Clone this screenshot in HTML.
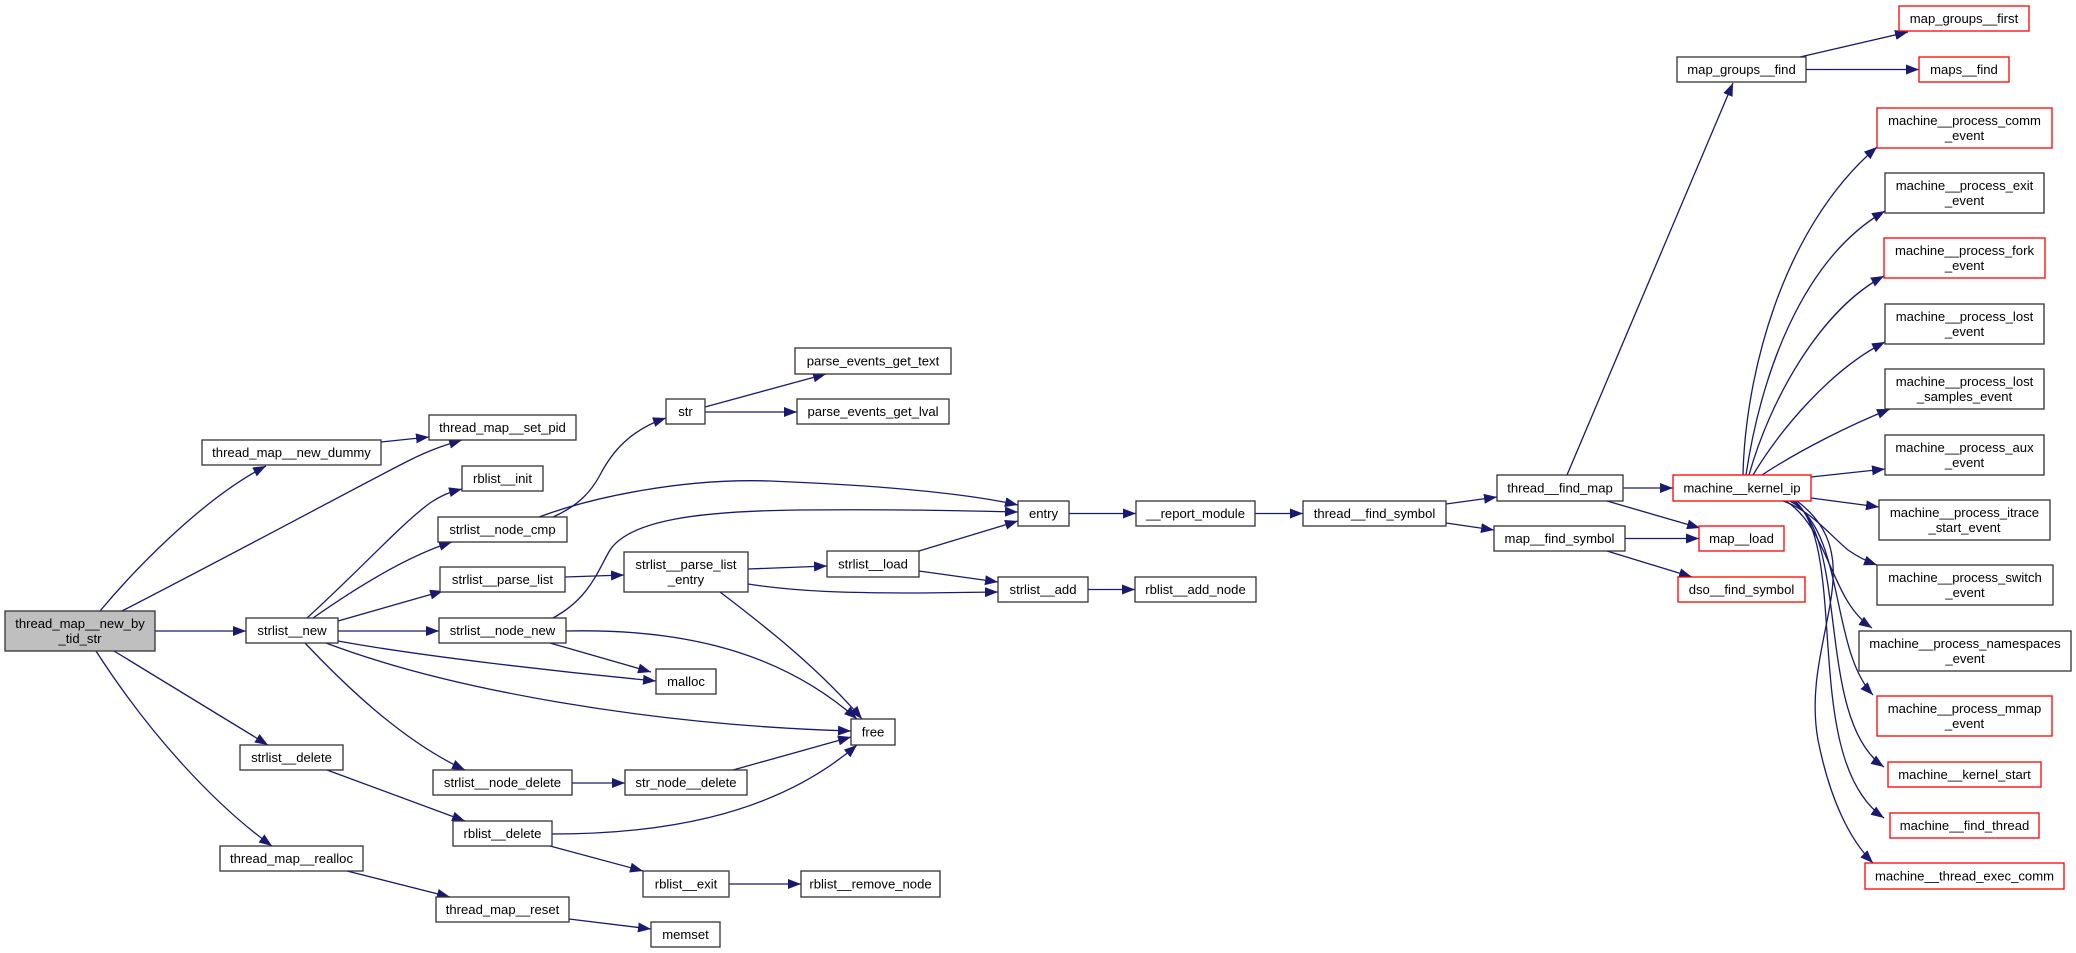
<!DOCTYPE html>
<html><head><meta charset="utf-8"><style>
html,body{margin:0;padding:0;background:#fff;}
svg{display:block;}
text{font-family:"Liberation Sans",Arial,sans-serif;font-size:13.1px;fill:#000;text-anchor:middle;}
.n{fill:#fff;stroke:#333;stroke-width:1.3;}
.r{fill:#fff;stroke:#ff0000;stroke-width:1.3;}
.g{fill:#bfbfbf;stroke:#333;stroke-width:1.3;}
.e{fill:none;stroke:#191970;stroke-width:1.3;marker-end:url(#a);}
</style></head><body>
<svg width="2076" height="953" viewBox="0 0 2076 953" xmlns="http://www.w3.org/2000/svg">
<defs><marker id="a" markerUnits="userSpaceOnUse" markerWidth="13" markerHeight="10" viewBox="0 0 13 10" refX="13" refY="5" orient="auto"><path d="M0,0 L13,5 L0,10 z" fill="#191970"/></marker></defs>

<!-- edges -->
<path class="e" d="M100,611 C130,575 200,500 266,466"/>
<path class="e" d="M122,611 C250,545 370,480 410,460 C430,450 445,445 462,440"/>
<path class="e" d="M155,631 L246,631"/>
<path class="e" d="M114,651 L268,745"/>
<path class="e" d="M96,651 C150,735 215,805 272,846"/>
<path class="e" d="M381,442 L429,437"/>
<path class="e" d="M307,618 C360,570 400,525 430,503 C442,495 450,492 462,489"/>
<path class="e" d="M313,618 C360,585 410,555 452,542"/>
<path class="e" d="M338,621 L443,591"/>
<path class="e" d="M338,631 L439,631"/>
<path class="e" d="M338,641 C420,656 560,672 656,681"/>
<path class="e" d="M326,643 C450,690 650,725 851,731"/>
<path class="e" d="M305,643 C340,680 400,740 465,770"/>
<path class="e" d="M327,770 L465,821"/>
<path class="e" d="M347,871 L450,897"/>
<path class="e" d="M553,517 C580,505 592,490 600,475 C612,452 630,430 666,418"/>
<path class="e" d="M539,517 C590,498 680,478 770,481 C870,485 960,492 1018,505"/>
<path class="e" d="M565,577 L624,575"/>
<path class="e" d="M553,618 C590,598 598,570 610,550 C630,520 700,511 800,510 C900,509 980,511 1018,512"/>
<path class="e" d="M550,643 L651,672"/>
<path class="e" d="M566,631 C700,628 790,660 857,719"/>
<path class="e" d="M748,569 L827,566"/>
<path class="e" d="M748,584 C800,592 850,593 920,593 L998,592"/>
<path class="e" d="M720,592 C770,630 820,670 862,719"/>
<path class="e" d="M919,551 L1018,521"/>
<path class="e" d="M919,571 L998,582"/>
<path class="e" d="M572,783 L625,783"/>
<path class="e" d="M733,770 L851,737"/>
<path class="e" d="M552,834 C650,834 770,820 857,745"/>
<path class="e" d="M550,846 L643,871"/>
<path class="e" d="M729,884 L801,884"/>
<path class="e" d="M569,919 L651,929"/>
<path class="e" d="M705,407 L826,374"/>
<path class="e" d="M705,412 L797,412"/>
<path class="e" d="M1069,513.5 L1136,513.5"/>
<path class="e" d="M1088,589.5 L1135,589.5"/>
<path class="e" d="M1255,513.5 L1303,513.5"/>
<path class="e" d="M1446,504 L1497,497"/>
<path class="e" d="M1446,523 L1494,530"/>
<path class="e" d="M1623,488 L1673,488"/>
<path class="e" d="M1607,501 L1700,528"/>
<path class="e" d="M1567,475 L1733,83"/>
<path class="e" d="M1625,538.5 L1699,538.5"/>
<path class="e" d="M1607,551 L1692,577"/>
<path class="e" d="M1800,57 L1908,32"/>
<path class="e" d="M1806,69.5 L1919,69.5"/>
<path class="e" d="M1743,475 C1745,380 1780,230 1877,147"/>
<path class="e" d="M1746,475 C1760,380 1800,260 1885,211"/>
<path class="e" d="M1749,475 C1770,400 1820,310 1884,276"/>
<path class="e" d="M1753,475 C1780,430 1830,370 1885,342"/>
<path class="e" d="M1762,475 C1800,450 1850,425 1890,409"/>
<path class="e" d="M1811,477 L1885,469"/>
<path class="e" d="M1811,498 L1879,507"/>
<path class="e" d="M1783,501 C1810,510 1830,535 1848,550 C1858,557 1866,561 1877,565"/>
<path class="e" d="M1786,501 C1830,530 1830,600 1872,628"/>
<path class="e" d="M1790,501 C1845,530 1830,650 1873,695"/>
<path class="e" d="M1793,501 C1850,540 1815,720 1884,767"/>
<path class="e" d="M1795,501 C1850,550 1800,760 1884,818"/>
<path class="e" d="M1797,501 C1875,560 1800,640 1818,740 C1830,800 1850,840 1873,863"/>

<!-- nodes -->
<rect class="g" x="5" y="611" width="150" height="40"/><text x="80" y="628">thread_map__new_by</text><text x="80" y="643">_tid_str</text>
<rect class="n" x="202" y="440" width="179" height="25"/><text x="291.5" y="457">thread_map__new_dummy</text>
<rect class="n" x="429" y="415" width="147" height="25"/><text x="502.5" y="432">thread_map__set_pid</text>
<rect class="n" x="462" y="466" width="81" height="25"/><text x="502.5" y="483">rblist__init</text>
<rect class="n" x="438" y="517" width="129" height="25"/><text x="502.5" y="534">strlist__node_cmp</text>
<rect class="n" x="440" y="567" width="125" height="25"/><text x="502.5" y="584">strlist__parse_list</text>
<rect class="n" x="246" y="618" width="92" height="25"/><text x="292" y="635">strlist__new</text>
<rect class="n" x="439" y="618" width="127" height="25"/><text x="502.5" y="635">strlist__node_new</text>
<rect class="n" x="656" y="669" width="60" height="25"/><text x="686" y="686">malloc</text>
<rect class="n" x="851" y="719" width="44" height="26"/><text x="873" y="736.5">free</text>
<rect class="n" x="240" y="745" width="103" height="25"/><text x="291.5" y="762">strlist__delete</text>
<rect class="n" x="433" y="770" width="139" height="25"/><text x="502.5" y="787">strlist__node_delete</text>
<rect class="n" x="625" y="770" width="122" height="25"/><text x="686" y="787">str_node__delete</text>
<rect class="n" x="453" y="821" width="99" height="25"/><text x="502.5" y="838">rblist__delete</text>
<rect class="n" x="643" y="871" width="86" height="26"/><text x="686" y="888.5">rblist__exit</text>
<rect class="n" x="801" y="871" width="139" height="26"/><text x="870.5" y="888.5">rblist__remove_node</text>
<rect class="n" x="220" y="846" width="143" height="25"/><text x="291.5" y="863">thread_map__realloc</text>
<rect class="n" x="436" y="897" width="133" height="25"/><text x="502.5" y="914">thread_map__reset</text>
<rect class="n" x="651" y="922" width="69" height="25"/><text x="685.5" y="939">memset</text>
<rect class="n" x="666" y="399" width="39" height="25"/><text x="685.5" y="416">str</text>
<rect class="n" x="795" y="348" width="156" height="26"/><text x="873" y="365.5">parse_events_get_text</text>
<rect class="n" x="797" y="399" width="152" height="25"/><text x="873" y="416">parse_events_get_lval</text>
<rect class="n" x="624" y="552" width="124" height="40"/><text x="686" y="569">strlist__parse_list</text><text x="686" y="584">_entry</text>
<rect class="n" x="1018" y="501" width="51" height="25"/><text x="1043.5" y="518">entry</text>
<rect class="n" x="827" y="551" width="92" height="26"/><text x="873" y="568.5">strlist__load</text>
<rect class="n" x="998" y="577" width="90" height="25"/><text x="1043" y="594">strlist__add</text>
<rect class="n" x="1135" y="577" width="121" height="25"/><text x="1195.5" y="594">rblist__add_node</text>
<rect class="n" x="1136" y="501" width="119" height="25"/><text x="1195.5" y="518">__report_module</text>
<rect class="n" x="1303" y="501" width="143" height="25"/><text x="1374.5" y="518">thread__find_symbol</text>
<rect class="n" x="1497" y="475" width="126" height="26"/><text x="1560" y="492.5">thread__find_map</text>
<rect class="n" x="1494" y="526" width="131" height="25"/><text x="1559.5" y="543">map__find_symbol</text>
<rect class="r" x="1699" y="526" width="85" height="25"/><text x="1741.5" y="543">map__load</text>
<rect class="r" x="1678" y="577" width="127" height="25"/><text x="1741.5" y="594">dso__find_symbol</text>
<rect class="r" x="1673" y="475" width="138" height="26"/><text x="1742" y="492.5">machine__kernel_ip</text>
<rect class="n" x="1677" y="57" width="129" height="25"/><text x="1741.5" y="74">map_groups__find</text>
<rect class="r" x="1899" y="6" width="130" height="25"/><text x="1964" y="23">map_groups__first</text>
<rect class="r" x="1919" y="57" width="90" height="25"/><text x="1964" y="74">maps__find</text>
<rect class="r" x="1877" y="108" width="175" height="40"/><text x="1964.5" y="125">machine__process_comm</text><text x="1964.5" y="140">_event</text>
<rect class="n" x="1885" y="173" width="159" height="40"/><text x="1964.5" y="190">machine__process_exit</text><text x="1964.5" y="205">_event</text>
<rect class="r" x="1884" y="238" width="161" height="40"/><text x="1964.5" y="255">machine__process_fork</text><text x="1964.5" y="270">_event</text>
<rect class="n" x="1885" y="304" width="159" height="40"/><text x="1964.5" y="321">machine__process_lost</text><text x="1964.5" y="336">_event</text>
<rect class="n" x="1885" y="369" width="159" height="40"/><text x="1964.5" y="386">machine__process_lost</text><text x="1964.5" y="401">_samples_event</text>
<rect class="n" x="1885" y="435" width="159" height="40"/><text x="1964.5" y="452">machine__process_aux</text><text x="1964.5" y="467">_event</text>
<rect class="n" x="1879" y="500" width="171" height="40"/><text x="1964.5" y="517">machine__process_itrace</text><text x="1964.5" y="532">_start_event</text>
<rect class="n" x="1877" y="565" width="176" height="40"/><text x="1965" y="582">machine__process_switch</text><text x="1965" y="597">_event</text>
<rect class="n" x="1859" y="631" width="212" height="40"/><text x="1965" y="648">machine__process_namespaces</text><text x="1965" y="663">_event</text>
<rect class="r" x="1877" y="696" width="175" height="40"/><text x="1964.5" y="713">machine__process_mmap</text><text x="1964.5" y="728">_event</text>
<rect class="r" x="1888" y="762" width="153" height="25"/><text x="1964.5" y="779">machine__kernel_start</text>
<rect class="r" x="1890" y="813" width="149" height="25"/><text x="1964.5" y="830">machine__find_thread</text>
<rect class="r" x="1865" y="863" width="199" height="26"/><text x="1964.5" y="880.5">machine__thread_exec_comm</text>
</svg>
</body></html>
